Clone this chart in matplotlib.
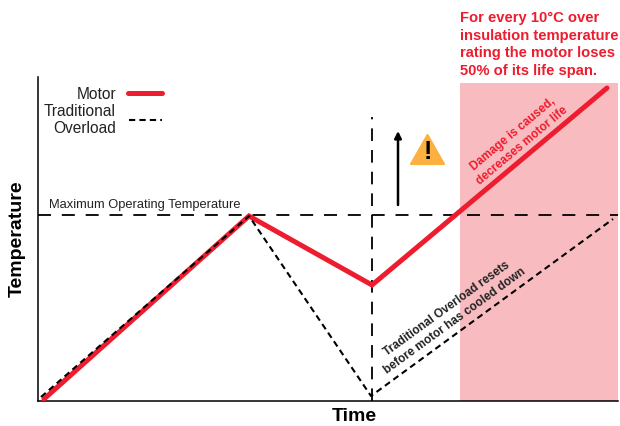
import matplotlib
matplotlib.use('Agg')
import matplotlib.pyplot as plt
from matplotlib.patches import Polygon

plt.rcParams['font.family'] = ['Liberation Sans', 'DejaVu Sans']

RED = '#ed1c2e'
PINK = '#f8bcc0'
ORANGE = '#fbb040'

motor_time = [6, 211, 334, 569]
motor_temp = [2, 185, 116, 313]
overload_time = [3, 211, 333, 575]
overload_temp = [4, 185, 5, 182]
max_temp = 186
reset_time = 334
damage_start = 422
damage_top = 318

fig = plt.figure(figsize=(6.2, 4.27), dpi=100)
# axes box set so one data unit is one pixel
ax = fig.add_axes([38 / 620, 25 / 427, 580 / 620, 324 / 427])
ax.set_xlim(0, 580)
ax.set_ylim(0, 324)
ax.spines['top'].set_visible(False)
ax.spines['right'].set_visible(False)
ax.spines['left'].set_linewidth(1.1)
ax.spines['bottom'].set_linewidth(1.1)
ax.set_xticks([])
ax.set_yticks([])

ax.axvspan(damage_start, 580, ymax=damage_top / 324, color=PINK, lw=0, zorder=0)
ax.axhline(max_temp, color='black', lw=1.3, dashes=(7.2, 6), zorder=1)
ax.plot([reset_time, reset_time], [0, 284], color='black', lw=1.3, dashes=(7, 5), zorder=1)

ax.plot(motor_time, motor_temp, color=RED, lw=3.6, solid_joinstyle='miter',
        solid_capstyle='round', zorder=3)
ax.plot(overload_time, overload_temp, color='black', lw=1.5, dashes=(3, 2), zorder=4)

# legend drawn by hand, labels sit left of the samples
ax.plot([90, 124], [308, 308], color=RED, lw=3.6, solid_capstyle='round', clip_on=False)
ax.plot([91, 124], [281, 281], color='black', lw=1.5, dashes=(3, 2))
ax.text(78, 308, 'Motor', ha='right', va='center', fontsize=11.2, color='#222222')
ax.text(78, 282, 'Traditional\nOverload', ha='right', va='center', fontsize=11.2,
        color='#222222', linespacing=1.1)

ax.text(11, 197, 'Maximum Operating Temperature', ha='left', va='center', fontsize=9.3,
        color='#222222')

ax.annotate('', xy=(360, 270), xytext=(360, 196),
            arrowprops=dict(arrowstyle='-|>', color='black', lw=1.8, mutation_scale=10,
                            shrinkA=0, shrinkB=0))
ax.add_patch(Polygon([(373, 237), (389.5, 266), (406, 237)], closed=True, fc=ORANGE, ec=ORANGE,
                     lw=1.5, joinstyle='round', zorder=3))
ax.text(389.5, 250, '!', ha='center', va='center', fontsize=18, fontweight='bold', color='black',
        zorder=4)

ax.text(480, 262, 'Damage is caused,\ndecreases motor life', rotation=40, ha='center', va='center',
        rotation_mode='anchor', fontsize=8.5, fontweight='bold', color=RED, linespacing=1.25)
ax.text(413, 87, 'Traditional Overload resets\nbefore motor has cooled down', rotation=36,
        ha='center', va='center', rotation_mode='anchor', fontsize=8.5, fontweight='bold',
        color='#222222', linespacing=1.25)

fig.text(460 / 620, 1 - 11 / 427, 'For every 10°C over\ninsulation temperature\nrating the motor loses\n50% of its life span.',
         ha='left', va='top', fontsize=10.6, fontweight='bold', color=RED, linespacing=1.33)

fig.text(17 / 620, 1 - 239 / 427, 'Temperature', rotation=90, ha='center', va='center',
         fontsize=14, fontweight='bold', color='black')
fig.text(354 / 620, 1 - 417 / 427, 'Time', ha='center', va='center', fontsize=14,
         fontweight='bold', color='black')

fig.savefig('out.png', dpi=100)
